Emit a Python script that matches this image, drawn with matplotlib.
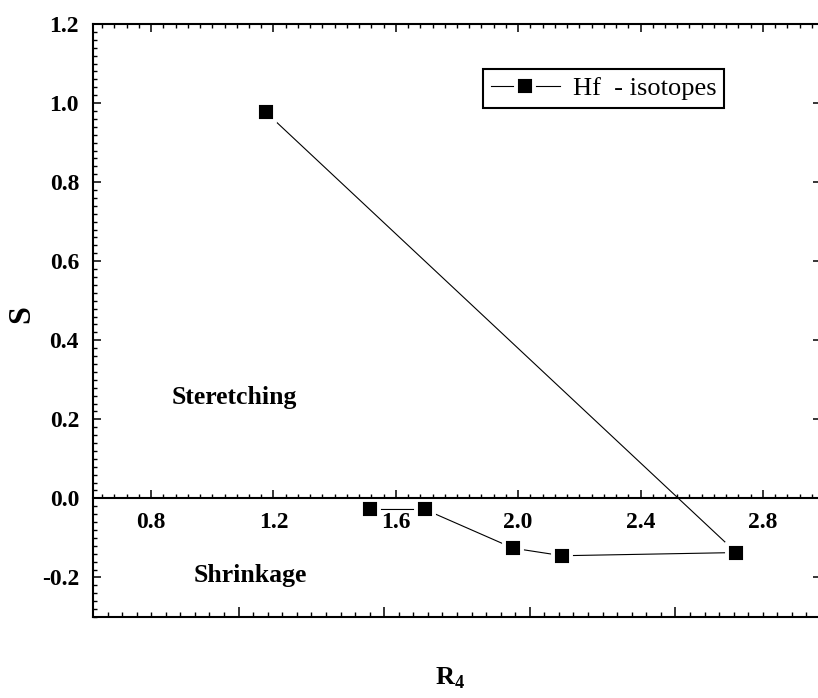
import matplotlib
matplotlib.use("Agg")
import matplotlib.pyplot as plt
from matplotlib.ticker import MultipleLocator, FormatStrFormatter

plt.rcParams.update({'font.family': 'Liberation Serif'})
plt.rcParams.update({'axes.unicode_minus': False})
plt.rcParams.update({'mathtext.fontset': 'custom'})
plt.rcParams.update({'mathtext.bf': 'Liberation Serif:bold'})
plt.rcParams.update({'mathtext.rm': 'Liberation Serif'})

# Data (line drawn in this order)
r4 = [1.175, 2.713, 2.144, 1.984, 1.695, 1.516]
s_vals = [0.977, -0.137, -0.145, -0.126, -0.028, -0.028]
series_label = "Hf  - isotopes"

fig = plt.figure(figsize=(8.18, 6.98), dpi=100)
# axes frame runs slightly past the right edge of the picture, like the original
ax = fig.add_axes([93/818, 1 - 617/698, 728/818, 593/698])

ax.set_xlim(0.61, 2.99)
ax.set_ylim(-0.3, 1.2)

# Line first, then markers with a white halo so the line stops short of them
line, = ax.plot(r4, s_vals, color="black", lw=0.8, zorder=2)
marks, = ax.plot(r4, s_vals, ls="none", marker="s", ms=12.5, mfc="black",
                 mec="white", mew=2.8, zorder=2.2)

# x axis drawn along S = 0
ax.spines['bottom'].set_position(('data', 0))
for sp in ax.spines.values():
    sp.set_linewidth(1.5)

# bottom border with its own tick scale (no labels)
ax2 = ax.twiny()
ax2.set_xlim(0, 1)
ax2.xaxis.set_ticks_position('bottom')
ax2.xaxis.set_major_locator(MultipleLocator(0.2))
ax2.xaxis.set_minor_locator(MultipleLocator(0.02))
ax2.tick_params(axis='x', which='major', direction='in', length=7, width=1.1,
                labelbottom=False, labeltop=False, top=False)
ax2.tick_params(axis='x', which='minor', direction='in', length=3.5, width=1.0,
                top=False)
for name in ['top', 'left', 'right']:
    ax2.spines[name].set_visible(False)
ax2.spines['bottom'].set_linewidth(1.5)

ax.xaxis.set_major_locator(MultipleLocator(0.4))
ax.xaxis.set_minor_locator(MultipleLocator(0.04))
ax.yaxis.set_major_locator(MultipleLocator(0.2))
ax.yaxis.set_minor_locator(MultipleLocator(0.02))
ax.xaxis.set_major_formatter(FormatStrFormatter('%.1f'))
ax.yaxis.set_major_formatter(FormatStrFormatter('%.1f'))

ax.tick_params(axis='both', which='major', direction='in', length=5.8, width=1.1,
               top=True, right=True, labelsize=17, pad=10)
ax.tick_params(axis='both', which='minor', direction='in', length=3.2, width=1.0,
               top=True, right=False)
for lab in ax.get_xticklabels() + ax.get_yticklabels():
    lab.set_fontweight('bold')

ax.set_ylabel("S", fontsize=23, fontweight='bold')
ax.yaxis.set_label_coords(-0.078, 0.511)
ax.set_xlabel(r"$\mathbf{R}_{\mathbf{4}}$", fontsize=19)
ax.xaxis.set_label_coords(0.49, -0.082)

ax.text(1.071, 0.255, "Steretching", fontsize=18.5, fontweight='bold',
        ha='center', va='center')
ax.text(1.124, -0.195, "Shrinkage", fontsize=18.5, fontweight='bold',
        ha='center', va='center')

leg = ax.legend([(line, marks)], [series_label], loc='upper left',
                bbox_to_anchor=(0.5357, 0.924), borderaxespad=0,
                fontsize=19, fancybox=False, framealpha=1, edgecolor='black',
                handlelength=2.6, handletextpad=0.5, borderpad=0.3)
leg.get_frame().set_linewidth(1.5)

fig.savefig("out.png", dpi=100)
